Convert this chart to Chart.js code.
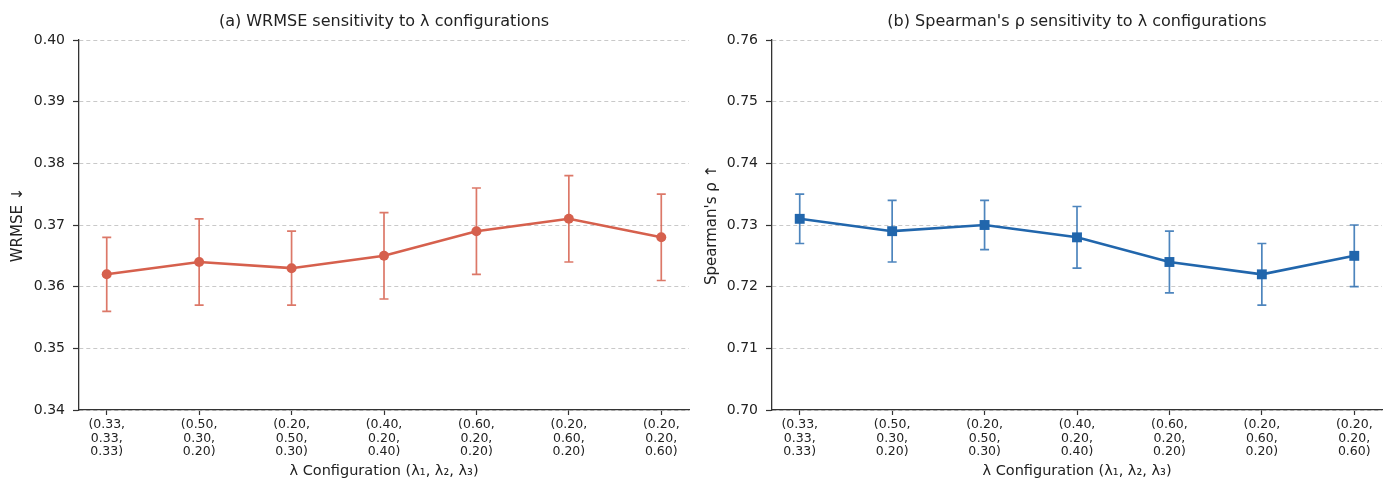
<!DOCTYPE html>
<html>
<head>
<meta charset="utf-8">
<script src="https://cdn.jsdelivr.net/npm/chart.js@4.4.0/dist/chart.umd.min.js"></script>
<style>
  html, body { margin: 0; padding: 0; background: #ffffff; }
  #wrap { position: relative; width: 1389px; height: 482px; overflow: hidden; }
  .panel { position: absolute; top: 0; height: 482px; }
  #p1 { left: 0; width: 694px; }
  #p2 { left: 694px; width: 695px; }
</style>
</head>
<body>
<div id="wrap">
  <div class="panel" id="p1"><canvas id="c1"></canvas></div>
  <div class="panel" id="p2"><canvas id="c2"></canvas></div>
</div>
<script>
// ---- data ----
const configLabels = [
  ["(0.33,", "0.33,", "0.33)"],
  ["(0.50,", "0.30,", "0.20)"],
  ["(0.20,", "0.50,", "0.30)"],
  ["(0.40,", "0.20,", "0.40)"],
  ["(0.60,", "0.20,", "0.20)"],
  ["(0.20,", "0.60,", "0.20)"],
  ["(0.20,", "0.20,", "0.60)"]
];
const wrmseMean = [0.362, 0.364, 0.363, 0.365, 0.369, 0.371, 0.368];
const wrmseErr  = [0.006, 0.007, 0.006, 0.007, 0.007, 0.007, 0.007];
const rhoMean   = [0.731, 0.729, 0.730, 0.728, 0.724, 0.722, 0.725];
const rhoErr    = [0.004, 0.005, 0.004, 0.005, 0.005, 0.005, 0.005];
const wrmseTicks = [0.34, 0.35, 0.36, 0.37, 0.38, 0.39, 0.40];
const rhoTicks   = [0.70, 0.71, 0.72, 0.73, 0.74, 0.75, 0.76];

const FONT = "'DejaVu Sans', sans-serif";
const AX = '#333333';

const errorBarPlugin = {
  id: 'errorBars',
  beforeDatasetsDraw(chart) {
    const ctx = chart.ctx;
    const xs = chart.scales.x, ys = chart.scales.y;
    chart.data.datasets.forEach(ds => {
      if (!ds.errors) return;
      ctx.save();
      ctx.strokeStyle = ds.errorColor;
      ctx.lineWidth = 1.7;
      ds.data.forEach((p, i) => {
        const x = xs.getPixelForValue(p.x);
        const yTop = ys.getPixelForValue(p.y + ds.errors[i]);
        const yBot = ys.getPixelForValue(p.y - ds.errors[i]);
        const cap = 4.5;
        ctx.beginPath();
        ctx.moveTo(x, yTop); ctx.lineTo(x, yBot);
        ctx.moveTo(x - cap, yTop); ctx.lineTo(x + cap, yTop);
        ctx.moveTo(x - cap, yBot); ctx.lineTo(x + cap, yBot);
        ctx.stroke();
      });
      ctx.restore();
    });
  }
};

function makeChart(id, opts) {
  const data = opts.mean.map((v, i) => ({ x: i, y: v }));
  return new Chart(document.getElementById(id), {
    type: 'line',
    data: {
      datasets: [{
        data: data,
        errors: opts.err,
        errorColor: opts.errColor,
        borderColor: opts.color,
        backgroundColor: opts.color,
        borderWidth: 2.6,
        pointStyle: opts.pointStyle,
        pointRadius: opts.pointRadius,
        pointHoverRadius: opts.pointRadius,
        pointBorderWidth: 0,
        tension: 0
      }]
    },
    options: {
      responsive: true,
      maintainAspectRatio: false,
      animation: false,
      events: [],
      layout: { padding: { left: 0, right: opts.padRight, top: 0, bottom: 0 } },
      plugins: {
        legend: { display: false },
        tooltip: { enabled: false },
        title: {
          display: true,
          fullSize: false,
          text: opts.title,
          color: '#222222',
          font: { family: FONT, size: 16, weight: 'normal', lineHeight: 1.2 },
          padding: { top: 12.6, bottom: 8.2 }
        }
      },
      scales: {
        x: {
          type: 'linear',
          min: -0.3,
          max: 6.3,
          afterBuildTicks(scale) {
            scale.ticks = configLabels.map((_, i) => ({ value: i }));
          },
          afterFit(scale) { scale.height = 72; },
          ticks: {
            autoSkip: false,
            maxRotation: 0,
            padding: 3,
            color: '#222222',
            font: { family: FONT, size: 12.5, lineHeight: 1.09 },
            callback: (v) => configLabels[v]
          },
          grid: {
            drawOnChartArea: false,
            drawTicks: true,
            tickLength: 5,
            tickColor: AX,
            tickWidth: 1.2
          },
          border: { display: true, color: AX, width: 1.3 },
          title: {
            display: true,
            text: 'λ Configuration (λ₁, λ₂, λ₃)',
            color: '#222222',
            font: { family: FONT, size: 14.5, lineHeight: 1.2 },
            padding: { top: 2, bottom: 2.5 }
          }
        },
        y: {
          type: 'linear',
          min: opts.ticks[0],
          max: opts.ticks[opts.ticks.length - 1],
          afterBuildTicks(scale) {
            scale.ticks = opts.ticks.map(v => ({ value: v }));
          },
          afterFit(scale) { scale.width = opts.yWidth; },
          ticks: {
            padding: 8,
            color: '#222222',
            font: { family: FONT, size: 14 },
            callback: (v) => v.toFixed(2)
          },
          grid: {
            drawOnChartArea: true,
            color: '#c9c9c9',
            lineWidth: 1,
            drawTicks: true,
            tickLength: 6,
            tickColor: AX,
            tickWidth: 1.2,
            tickBorderDash: []
          },
          border: { display: true, color: AX, width: 1.3, dash: [4, 3] },
          title: {
            display: true,
            text: opts.yTitle,
            color: '#222222',
            font: { family: FONT, size: 15, lineHeight: 1.2 },
            padding: { top: 9, bottom: 4 }
          }
        }
      }
    },
    plugins: [errorBarPlugin]
  });
}

makeChart('c1', {
  mean: wrmseMean, err: wrmseErr, ticks: wrmseTicks,
  color: '#d6604d', errColor: 'rgba(214,96,77,0.85)',
  pointStyle: 'circle', pointRadius: 5,
  title: '(a) WRMSE sensitivity to λ configurations',
  yTitle: 'WRMSE ↓', yWidth: 79, padRight: 5
});
makeChart('c2', {
  mean: rhoMean, err: rhoErr, ticks: rhoTicks,
  color: '#2166ac', errColor: 'rgba(33,102,172,0.8)',
  pointStyle: 'rect', pointRadius: 7,
  title: "(b) Spearman's ρ sensitivity to λ configurations",
  yTitle: "Spearman's ρ ↑", yWidth: 78, padRight: 7
});
</script>
</body>
</html>
